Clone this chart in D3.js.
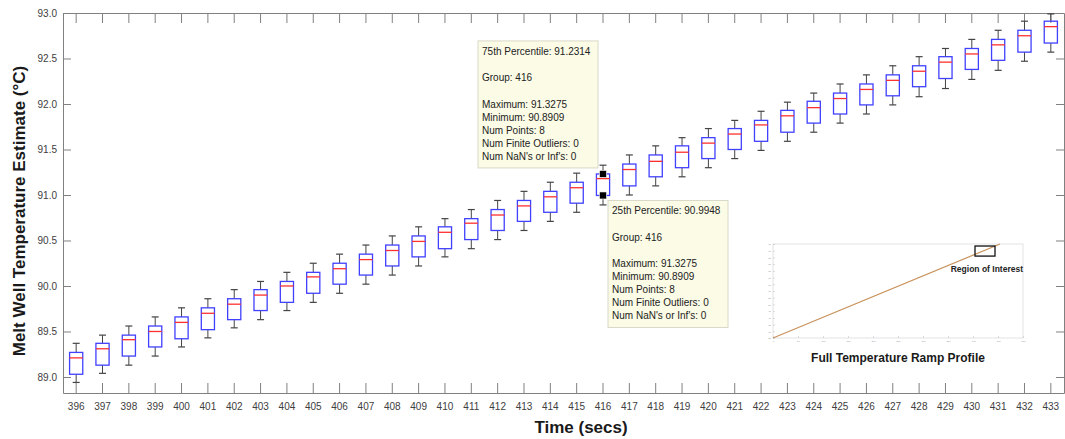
<!DOCTYPE html>
<html>
<head>
<meta charset="utf-8">
<script src="https://cdn.jsdelivr.net/npm/d3@7"></script>
<style>
  body { margin: 0; background: #fff; }
  svg { display: block; font-family: "Liberation Sans", Arial, sans-serif; }
  .axis path, .axis line { stroke: #808080; }
  .axis text { fill: #404040; font-size: 10px; font-family: "Liberation Sans", Arial, sans-serif; }
</style>
</head>
<body>
<svg width="1065" height="439"></svg>
<script>
// groups (seconds) and box statistics
var groups = [396, 397, 398, 399, 400, 401, 402, 403, 404, 405, 406, 407, 408, 409, 410, 411, 412, 413, 414,
              415, 416, 417, 418, 419, 420, 421, 422, 423, 424, 425, 426, 427, 428, 429, 430, 431, 432, 433];
var lowerWhisker = [88.94, 89.04, 89.13, 89.23, 89.33, 89.43, 89.54, 89.63, 89.73, 89.82, 89.92, 90.02, 90.12,
                    90.22, 90.32, 90.41, 90.51, 90.61, 90.71, 90.81, 90.8909, 91.00, 91.10, 91.20, 91.30, 91.40,
                    91.49, 91.59, 91.69, 91.79, 91.89, 91.99, 92.08, 92.17, 92.27, 92.37, 92.47, 92.57];
var q1 = [89.03, 89.13, 89.23, 89.33, 89.42, 89.52, 89.63, 89.73, 89.82, 89.92, 90.02, 90.12, 90.22, 90.32,
          90.41, 90.51, 90.61, 90.71, 90.81, 90.91, 90.9948, 91.10, 91.20, 91.30, 91.40, 91.50, 91.59, 91.69,
          91.79, 91.89, 91.99, 92.09, 92.19, 92.28, 92.38, 92.48, 92.57, 92.67];
var median = [89.21, 89.31, 89.41, 89.50, 89.60, 89.70, 89.80, 89.90, 90.00, 90.10, 90.19, 90.29, 90.39, 90.49,
              90.59, 90.69, 90.78, 90.88, 90.98, 91.08, 91.18, 91.28, 91.37, 91.47, 91.57, 91.67, 91.77, 91.87,
              91.96, 92.06, 92.16, 92.26, 92.36, 92.46, 92.55, 92.65, 92.75, 92.85];
var q3 = [89.27, 89.37, 89.46, 89.56, 89.66, 89.76, 89.86, 89.96, 90.05, 90.15, 90.25, 90.35, 90.45, 90.55,
          90.65, 90.74, 90.84, 90.94, 91.04, 91.14, 91.2314, 91.34, 91.44, 91.54, 91.63, 91.73, 91.82, 91.93,
          92.03, 92.12, 92.22, 92.32, 92.42, 92.52, 92.61, 92.71, 92.81, 92.91];
var upperWhisker = [89.37, 89.46, 89.56, 89.66, 89.76, 89.86, 89.96, 90.05, 90.15, 90.25, 90.35, 90.45, 90.55,
                    90.65, 90.74, 90.84, 90.94, 91.04, 91.14, 91.24, 91.3275, 91.44, 91.54, 91.63, 91.73, 91.82,
                    91.92, 92.02, 92.12, 92.22, 92.32, 92.42, 92.52, 92.61, 92.71, 92.81, 92.91, 92.99];
var yTicks = [89, 89.5, 90, 90.5, 91, 91.5, 92, 92.5, 93];

// data tips shown for group 416
var tipGroup = 416;
var tipUpper = ["75th Percentile: 91.2314", "Group: 416", "Maximum: 91.3275", "Minimum: 90.8909",
                "Num Points: 8", "Num Finite Outliers: 0", "Num NaN's or Inf's: 0"];
var tipLower = ["25th Percentile: 90.9948", "Group: 416", "Maximum: 91.3275", "Minimum: 90.8909",
                "Num Points: 8", "Num Finite Outliers: 0", "Num NaN's or Inf's: 0"];

// inset: full ramp profile
var rampTime = [0, 454];
var rampTemp = [25, 95];
var roiTime = [404, 444];
var roiTemp = [86, 93.5];

var svg = d3.select("svg");
var pLeft = 63, pRight = 1064, pTop = 13, pBottom = 393;

var x = d3.scaleBand().domain(groups).range([pLeft, pRight]).padding(0);
var y = d3.scaleLinear().domain([88.824, 93]).range([pBottom, pTop]);
var bw = x.bandwidth();
var cx = function(g) { return x(g) + bw / 2; };

// axes
svg.append("g").attr("class", "axis")
    .attr("transform", "translate(0," + pBottom + ")")
    .call(d3.axisBottom(x).tickSize(-10).tickSizeOuter(0).tickPadding(10));
svg.append("g").attr("class", "axis")
    .attr("transform", "translate(0," + pTop + ")")
    .call(d3.axisTop(x).tickSize(-10).tickSizeOuter(0).tickFormat(""));
svg.append("g").attr("class", "axis")
    .attr("transform", "translate(" + pLeft + ",0)")
    .call(d3.axisLeft(y).tickValues(yTicks).tickSize(-8).tickSizeOuter(0).tickPadding(6));
svg.append("g").attr("class", "axis")
    .attr("transform", "translate(" + pRight + ",0)")
    .call(d3.axisRight(y).tickValues(yTicks).tickSize(-8).tickSizeOuter(0).tickFormat(""));

// boxes
var boxes = svg.append("g").selectAll("g")
  .data(groups.map(function(g, i) {
    return {g: g, lo: lowerWhisker[i], q1: q1[i], med: median[i], q3: q3[i], hi: upperWhisker[i]};
  }))
  .enter().append("g");

var bwBox = bw * 0.5, cap = 7;
boxes.append("line")
    .attr("x1", function(d) { return cx(d.g); }).attr("x2", function(d) { return cx(d.g); })
    .attr("y1", function(d) { return y(d.hi); }).attr("y2", function(d) { return y(d.q3); })
    .attr("stroke", "#444").attr("stroke-width", 1);
boxes.append("line")
    .attr("x1", function(d) { return cx(d.g); }).attr("x2", function(d) { return cx(d.g); })
    .attr("y1", function(d) { return y(d.q1); }).attr("y2", function(d) { return y(d.lo); })
    .attr("stroke", "#444").attr("stroke-width", 1);
boxes.append("line")
    .attr("x1", function(d) { return cx(d.g) - cap / 2; }).attr("x2", function(d) { return cx(d.g) + cap / 2; })
    .attr("y1", function(d) { return y(d.hi); }).attr("y2", function(d) { return y(d.hi); })
    .attr("stroke", "#444").attr("stroke-width", 1.2);
boxes.append("line")
    .attr("x1", function(d) { return cx(d.g) - cap / 2; }).attr("x2", function(d) { return cx(d.g) + cap / 2; })
    .attr("y1", function(d) { return y(d.lo); }).attr("y2", function(d) { return y(d.lo); })
    .attr("stroke", "#444").attr("stroke-width", 1.2);
boxes.append("rect")
    .attr("x", function(d) { return cx(d.g) - bwBox / 2; })
    .attr("width", bwBox)
    .attr("y", function(d) { return y(d.q3); })
    .attr("height", function(d) { return y(d.q1) - y(d.q3); })
    .attr("fill", "none").attr("stroke", "#4040ff").attr("stroke-width", 1.3);
boxes.append("line")
    .attr("x1", function(d) { return cx(d.g) - bwBox / 2; }).attr("x2", function(d) { return cx(d.g) + bwBox / 2; })
    .attr("y1", function(d) { return y(d.med); }).attr("y2", function(d) { return y(d.med); })
    .attr("stroke", "#ff3030").attr("stroke-width", 1.3);

// axis titles
svg.append("text")
    .attr("x", 581).attr("y", 433)
    .attr("text-anchor", "middle")
    .attr("font-weight", "bold").attr("font-size", 17).attr("fill", "#1a1a1a")
    .text("Time (secs)");
svg.append("text")
    .attr("transform", "translate(25,211) rotate(-90)")
    .attr("text-anchor", "middle")
    .attr("font-weight", "bold").attr("font-size", 17).attr("fill", "#1a1a1a")
    .text("Melt Well Temperature Estimate (\u00B0C)");

// data tips
var ti = groups.indexOf(tipGroup);
var mx = cx(tipGroup), myHi = y(q3[ti]), myLo = y(q1[ti]);
var tipW = 120, tipH = 127;
var lineY = [14, 40.5, 67, 80, 93, 106, 119];

function dataTip(x0, y0, lines) {
  var t = svg.append("g").attr("transform", "translate(" + x0 + "," + y0 + ")");
  t.append("rect").attr("width", tipW).attr("height", tipH)
      .attr("fill", "#fbfbe6").attr("stroke", "#d8d8c8").attr("stroke-width", 1);
  t.selectAll("text").data(lines).enter().append("text")
      .attr("x", 4).attr("y", function(d, i) { return lineY[i]; })
      .attr("font-size", 10).attr("fill", "#222")
      .text(function(d) { return d; });
}
dataTip(mx - 5 - tipW, myHi - 6 - tipH, tipUpper);
dataTip(mx + 5, myLo + 5, tipLower);

[myHi, myLo].forEach(function(py) {
  svg.append("rect")
      .attr("x", mx - 3.5).attr("y", py - 3.5).attr("width", 7).attr("height", 7)
      .attr("fill", "#000").attr("stroke", "#fff").attr("stroke-width", 0.6);
});

// inset
var ix = d3.scaleLinear().domain([0, 500]).range([773, 1023]);
var iy = d3.scaleLinear().domain([25, 95]).range([338, 244]);
var inset = svg.append("g");
inset.append("rect").attr("x", 773).attr("y", 244).attr("width", 250).attr("height", 94)
    .attr("fill", "#fff").attr("stroke", "#d0d0d0").attr("stroke-width", 0.6);
inset.append("g").attr("transform", "translate(0,338)")
    .call(d3.axisBottom(ix).ticks(10).tickSize(-2).tickSizeOuter(0).tickPadding(2))
    .call(function(g) {
      g.select(".domain").remove();
      g.selectAll("line").attr("stroke", "#bbb").attr("stroke-width", 0.5);
      g.selectAll("text").attr("font-size", 2.5).attr("fill", "#999");
    });
inset.append("g").attr("transform", "translate(773,0)")
    .call(d3.axisLeft(iy).ticks(10).tickSize(-2).tickSizeOuter(0).tickPadding(2))
    .call(function(g) {
      g.select(".domain").remove();
      g.selectAll("line").attr("stroke", "#bbb").attr("stroke-width", 0.5);
      g.selectAll("text").attr("font-size", 2.5).attr("fill", "#999");
    });
inset.append("path")
    .datum(rampTime.map(function(t, i) { return [t, rampTemp[i]]; }))
    .attr("d", d3.line().x(function(d) { return ix(d[0]); }).y(function(d) { return iy(d[1]); }))
    .attr("fill", "none").attr("stroke", "#c8925a").attr("stroke-width", 1.2);
inset.append("rect")
    .attr("x", ix(roiTime[0])).attr("y", iy(roiTemp[1]))
    .attr("width", ix(roiTime[1]) - ix(roiTime[0]))
    .attr("height", iy(roiTemp[0]) - iy(roiTemp[1]))
    .attr("fill", "none").attr("stroke", "#111").attr("stroke-width", 1.3);
inset.append("text")
    .attr("x", 1023).attr("y", 272).attr("text-anchor", "end")
    .attr("font-size", 8.5).attr("font-weight", "bold").attr("fill", "#222")
    .text("Region of Interest");
inset.append("text")
    .attr("x", 898).attr("y", 362).attr("text-anchor", "middle")
    .attr("font-size", 12).attr("font-weight", "bold").attr("fill", "#1a1a1a")
    .text("Full Temperature Ramp Profile");
</script>
</body>
</html>
